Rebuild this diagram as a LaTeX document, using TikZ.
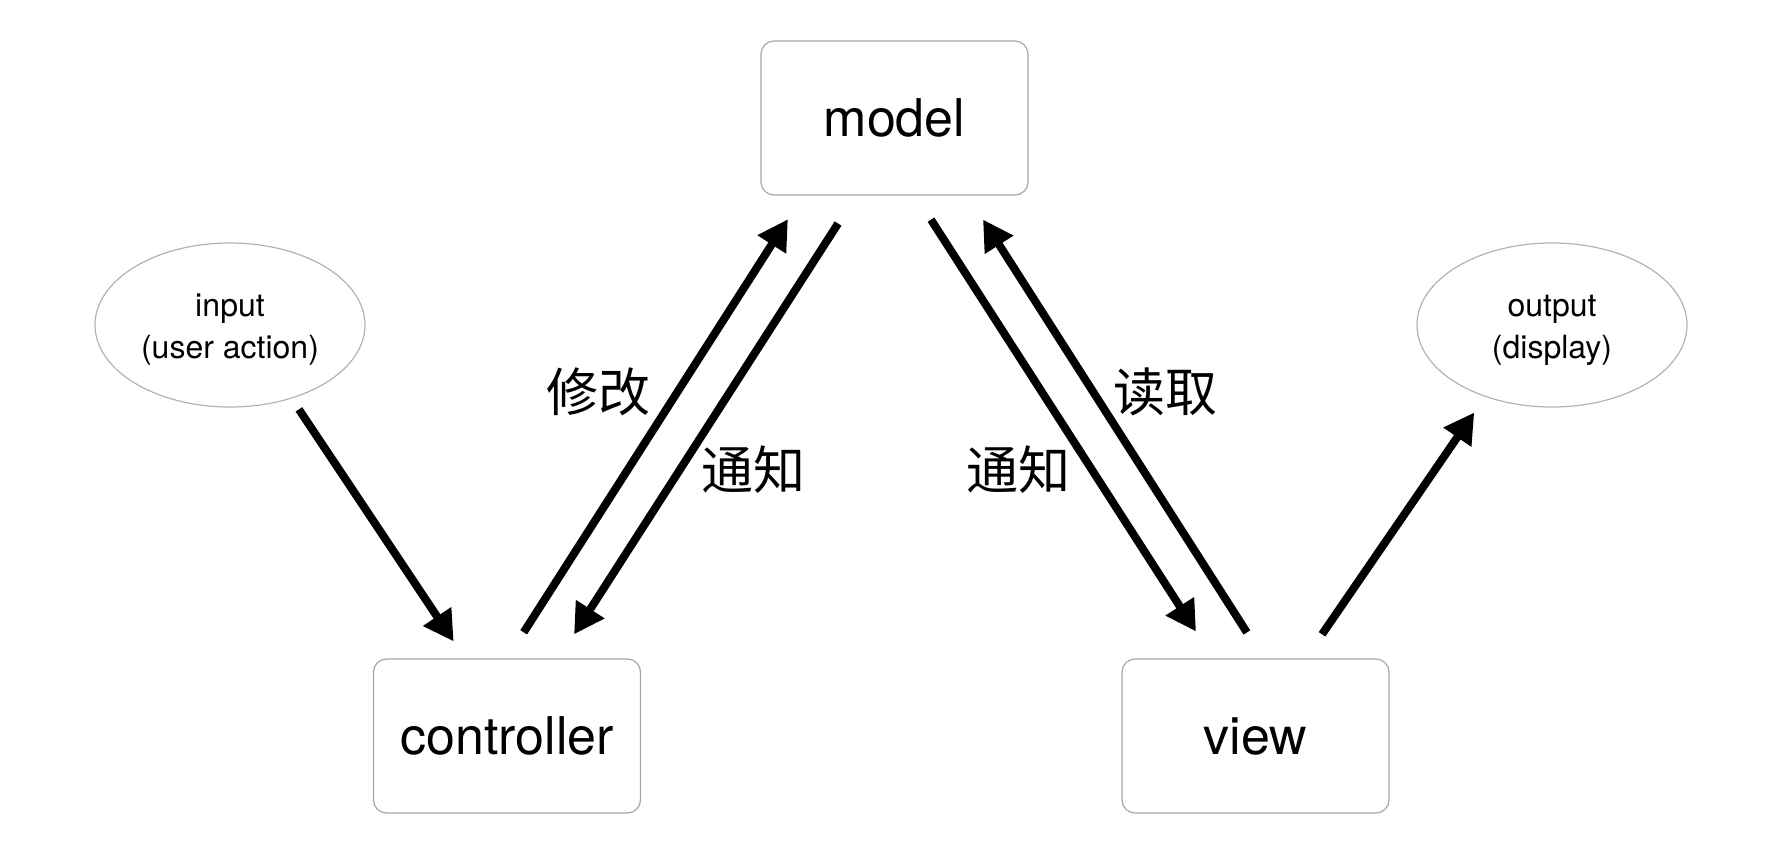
\documentclass[tikz,border=0pt]{standalone}
\usepackage{fontspec}
\setmainfont{TeX Gyre Heros}
\newfontfamily\cjk{Noto Sans CJK SC}
\usetikzlibrary{arrows.meta,shapes.geometric}
\tikzset{
 mvcnode/.style = {align=center, inner sep=0pt, text centered},
  mvc_box/.style = {mvcnode, rectangle, rounded corners=6.5pt, draw=black!35,
    line width=0.6pt, minimum width=133.5pt, minimum height=77pt,
    font=\fontsize{26}{30}\selectfont},% boite du modele
  mvc_io/.style = {mvcnode, ellipse, draw=black!30, line width=0.6pt,
    minimum width=135pt, minimum height=82pt,
    font=\fontsize{16}{21}\selectfont},% entree / sortie
  mvc_lbl/.style = {inner sep=0pt, font=\cjk\fontsize{26}{30}\selectfont},
  fleche/.style = {-{Triangle[length=15pt,width=16pt]}, line width=4pt}
}
\begin{document}
\begin{tikzpicture}[x=0.5pt,y=-0.5pt]
  \useasboundingbox (0,0) rectangle (1790,864);
  \node [mvc_box] (model) at (894.5,118) {model};
  \node [mvc_box] (controller) at (507,736) {controller};
  \node [mvc_box] (view) at (1255.5,736) {view};
  \node [mvc_io] (input) at (230,325) {\rule{0pt}{15.5pt}input\\(user action)};
  \node [mvc_io] (output) at (1552,325) {\rule{0pt}{15.5pt}output\\(display)};
  % fleches
  \draw [fleche, shorten <=6.5pt, shorten >=10.2pt] (input.-50) -- ([xshift=-21pt]controller.north);
  \draw [fleche, shorten <=15.5pt, shorten >=14pt] (controller.north) -- ([xshift=-45.75pt]model.south);
  \draw [fleche, shorten <=16.6pt, shorten >=14.3pt] ([xshift=-19.25pt]model.south) -- ([xshift=25.8pt]controller.north);
  \draw [fleche, shorten <=14.3pt, shorten >=16pt] ([xshift=10.5pt]model.south) -- ([xshift=-21.1pt]view.north);
  \draw [fleche, shorten <=15.4pt, shorten >=14.2pt] ([xshift=4pt]view.north) -- ([xshift=36.6pt]model.south);
  \draw [fleche, shorten <=14.6pt, shorten >=9.5pt] ([xshift=25pt]view.north) -- (output.-133);
  % etiquettes
  \node [mvc_lbl] (modifier) at (598,392) {修改};
  \node [mvc_lbl] (notif_c) at (753,470) {通知};
  \node [mvc_lbl] (notif_v) at (1018,470) {通知};
  \node [mvc_lbl] (lire) at (1165,392) {读取};
\end{tikzpicture}
\end{document}
